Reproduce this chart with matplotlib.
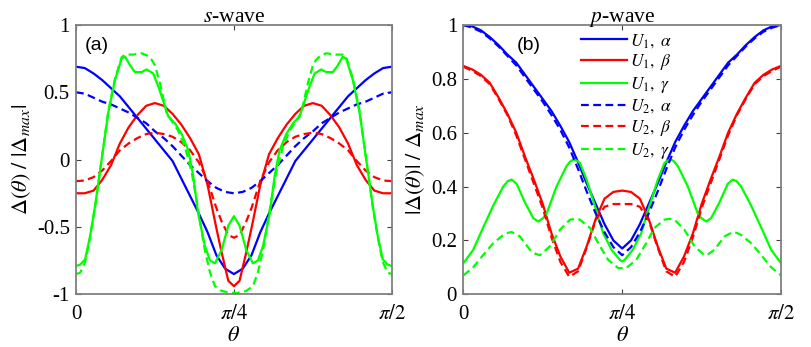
import numpy as np
import matplotlib.pyplot as plt

plt.rcParams['font.family'] = 'serif'
plt.rcParams['font.serif'] = ['Liberation Serif']
plt.rcParams['mathtext.fontset'] = 'stix'

# Angles (degrees) of the first half, 0 .. 45; the curves are symmetric about pi/4
ang = [0, 2.5, 5, 7.5, 10, 12.5, 15, 17.5, 20, 22.5, 25, 27.5, 30, 32.5, 35, 37.5, 40, 42.5, 45]

# s-wave, panel (a)
s_u1_alpha = [0.69, 0.68, 0.64, 0.59, 0.53, 0.47, 0.39, 0.31, 0.23, 0.15, 0.07, -0.01, -0.14,
              -0.27, -0.40, -0.54, -0.71, -0.81, -0.85]
s_u2_alpha = [0.50, 0.49, 0.46, 0.43, 0.41, 0.38, 0.35, 0.31, 0.27, 0.21, 0.16, 0.10, 0.03,
              -0.04, -0.10, -0.16, -0.21, -0.24, -0.25]

ang_s_beta = [0, 2.5, 5, 7.5, 10, 12.5, 15, 17.5, 20, 22.5, 25, 27.5, 30, 32.5, 35, 37.5, 40,
              41.5, 43.4, 45]
s_u1_beta = [-0.25, -0.25, -0.23, -0.15, -0.04, 0.12, 0.24, 0.33, 0.40, 0.42, 0.40, 0.34, 0.26,
             0.16, 0.04, -0.19, -0.51, -0.69, -0.90, -0.94]
s_u2_beta = [-0.16, -0.155, -0.13, -0.08, -0.01, 0.07, 0.12, 0.16, 0.19, 0.20, 0.19, 0.17, 0.13,
             0.07, -0.02, -0.16, -0.36, -0.46, -0.56, -0.58]

ang_s_u1_gamma = [0, 1.2, 2.6, 4, 5.4, 7.3, 9.2, 11.1, 13, 14, 15.4, 16.8, 18.7, 20.1, 22, 23.5,
                  24.4, 26.3, 28.2, 30.1, 32, 33.4, 34.8, 36.7, 38.2, 39.6, 41.5, 43.4, 45]
s_u1_gamma = [-0.79, -0.78, -0.74, -0.57, -0.35, 0.0, 0.35, 0.59, 0.75, 0.765, 0.70, 0.65, 0.65,
              0.67, 0.64, 0.54, 0.47, 0.32, 0.27, 0.19, 0.07, -0.12, -0.40, -0.64, -0.75, -0.77,
              -0.67, -0.49, -0.42]
ang_s_u2_gamma = [0, 1.2, 2.6, 4, 5.4, 7.3, 9.2, 11.1, 13, 14, 16.3, 18.7, 20.5, 21.6, 22.5, 23.9,
                  25.8, 27.7, 29, 31, 33, 34.8, 36.7, 38.2, 39.6, 41.5, 43.9, 45]
s_u2_gamma = [-0.85, -0.84, -0.76, -0.58, -0.36, 0.0, 0.36, 0.60, 0.76, 0.78, 0.78, 0.79, 0.77,
              0.74, 0.70, 0.57, 0.35, 0.27, 0.22, 0.10, -0.10, -0.37, -0.67, -0.84, -0.94, -0.975,
              -0.99, -0.99]

# p-wave, panel (b)
p_u1_alpha = [1.00, 0.995, 0.98, 0.955, 0.925, 0.89, 0.86, 0.815, 0.77, 0.725, 0.68, 0.625, 0.565,
              0.49, 0.41, 0.335, 0.26, 0.20, 0.17]
p_u1_beta = [0.848, 0.835, 0.815, 0.785, 0.73, 0.67, 0.60, 0.51, 0.425, 0.335, 0.225, 0.14, 0.08,
             0.095, 0.18, 0.28, 0.355, 0.38, 0.385]
p_u2_alpha = [1.00, 0.99, 0.975, 0.95, 0.92, 0.885, 0.85, 0.805, 0.76, 0.715, 0.665, 0.61, 0.545,
              0.465, 0.38, 0.30, 0.23, 0.175, 0.145]
p_u2_beta = [0.845, 0.83, 0.81, 0.78, 0.725, 0.665, 0.59, 0.50, 0.41, 0.32, 0.21, 0.12, 0.065,
             0.085, 0.175, 0.275, 0.325, 0.335, 0.335]

ang_p_u1_gamma = [0, 2.8, 5.7, 8.5, 11.3, 12.6, 13.7, 15.1, 17.5, 19.8, 21.2, 22.6, 23.6, 26.4,
                  29.2, 30.2, 31.1, 32.0, 33, 34.9, 37.3, 39.6, 42, 44.3, 45]
p_u1_gamma = [0.115, 0.165, 0.25, 0.33, 0.40, 0.42, 0.426, 0.41, 0.34, 0.283, 0.27, 0.283, 0.30,
              0.40, 0.475, 0.492, 0.50, 0.497, 0.488, 0.426, 0.327, 0.227, 0.165, 0.128, 0.122]
ang_p_u2_gamma = [0, 2.8, 5.7, 8.5, 11.3, 12.6, 13.7, 16, 18.9, 20.5, 21.7, 24.5, 27.4, 30.2,
                  31.6, 33, 35.9, 38.2, 41, 43.9, 45]
p_u2_gamma = [0.07, 0.10, 0.147, 0.19, 0.22, 0.228, 0.231, 0.215, 0.165, 0.15, 0.145, 0.178, 0.24,
              0.277, 0.28, 0.277, 0.246, 0.19, 0.128, 0.097, 0.097]

labels = [r'$U_1,\ \alpha$', r'$U_1,\ \beta$', r'$U_1,\ \gamma$',
          r'$U_2,\ \alpha$', r'$U_2,\ \beta$', r'$U_2,\ \gamma$']
colors = ['#0000ff', '#ff0000', '#00ff00']
gris = '#808080'


def espejo(grados, valores):
    # completes the curve from pi/4 to pi/2 using the symmetry
    g = list(grados) + [90 - d for d in reversed(grados[:-1])]
    v = list(valores) + list(reversed(valores[:-1]))
    return np.deg2rad(g), np.array(v)


def ejes(ax):
    for s in ax.spines.values():
        s.set_color(gris)
        s.set_linewidth(1.3)
    ax.tick_params(direction='in', top=True, right=True, length=3.5, width=0.8,
                   color='#404040', labelsize=15)
    ax.tick_params(axis='y', pad=4.5)
    ax.tick_params(axis='x', pad=8)
    ax.set_xlim(0, np.pi / 2)
    ax.set_xticks([0, np.pi / 4, np.pi / 2])
    ax.set_xticklabels(['0', r'$\pi/4$', r'$\pi/2$'])
    ax.set_xlabel(r'$\theta$', fontsize=16, labelpad=2)


fig = plt.figure(figsize=(8.12, 3.47), dpi=100)
ax1 = fig.add_axes([0.0936, 0.152, 0.389, 0.776])
ax2 = fig.add_axes([0.5706, 0.152, 0.3913, 0.776])

# panel (a)
dash = (3.5, 2)
ax1.plot(*espejo(ang, s_u1_alpha), color=colors[0], lw=1.6)
ax1.plot(*espejo(ang_s_beta, s_u1_beta), color=colors[1], lw=1.6)
ax1.plot(*espejo(ang, s_u2_alpha), color=colors[0], lw=1.6, ls='--', dashes=dash)
ax1.plot(*espejo(ang_s_beta, s_u2_beta), color=colors[1], lw=1.6, ls='--', dashes=dash)
ax1.plot(*espejo(ang_s_u1_gamma, s_u1_gamma), color=colors[2], lw=1.6)
ax1.plot(*espejo(ang_s_u2_gamma, s_u2_gamma), color=colors[2], lw=1.6, ls='--', dashes=dash)
ejes(ax1)
ax1.set_ylim(-1, 1)
ax1.set_yticks([-1, -0.5, 0, 0.5, 1])
ax1.set_yticklabels(['-1', '-0.5', '0', '0.5', '1'])
ax1.set_ylabel(r'$\Delta(\theta)\ /\ |\Delta_{max}|$', fontsize=16, labelpad=3)
ax1.set_title(r'$s$-wave', fontsize=15.5, pad=2)
ax1.text(0.028, 0.955, '(a)', transform=ax1.transAxes, family='Liberation Sans',
         fontsize=14, va='top', ha='left')

# panel (b)
ax2.plot(*espejo(ang, p_u1_alpha), color=colors[0], lw=1.6, label=labels[0])
ax2.plot(*espejo(ang, p_u1_beta), color=colors[1], lw=1.6, label=labels[1])
ax2.plot(*espejo(ang_p_u1_gamma, p_u1_gamma), color=colors[2], lw=1.6, label=labels[2])
ax2.plot(*espejo(ang, p_u2_alpha), color=colors[0], lw=1.6, ls='--', dashes=dash,
         label=labels[3])
ax2.plot(*espejo(ang, p_u2_beta), color=colors[1], lw=1.6, ls='--', dashes=dash,
         label=labels[4])
ax2.plot(*espejo(ang_p_u2_gamma, p_u2_gamma), color=colors[2], lw=1.6, ls='--', dashes=dash,
         label=labels[5])
ejes(ax2)
ax2.set_ylim(0, 1)
ax2.set_yticks([0, 0.2, 0.4, 0.6, 0.8, 1])
ax2.set_yticklabels(['0', '0.2', '0.4', '0.6', '0.8', '1'])
ax2.set_ylabel(r'$|\Delta(\theta)|\ /\ \Delta_{max}$', fontsize=16, labelpad=3)
ax2.set_title(r'$p$-wave', fontsize=15.5, pad=2)
ax2.text(0.168, 0.955, '(b)', transform=ax2.transAxes, family='Liberation Sans',
         fontsize=14, va='top', ha='left')
ax2.legend(loc='upper left', bbox_to_anchor=(0.35, 1.0), frameon=False, fontsize=12.5,
           handlelength=2.6, handletextpad=0.2, labelspacing=0.15, borderaxespad=0)

fig.savefig('out.png', dpi=100)
